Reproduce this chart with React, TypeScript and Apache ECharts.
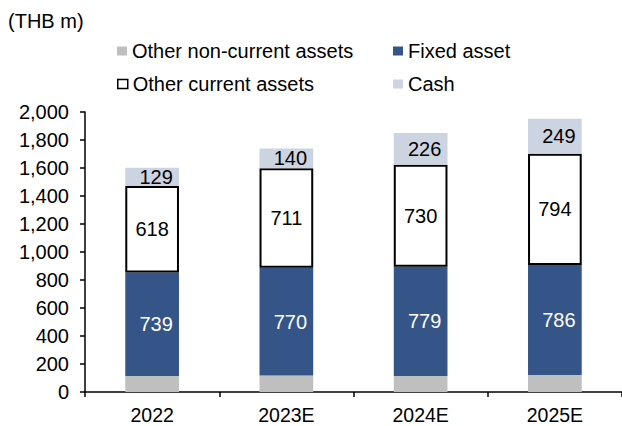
import React, { useEffect, useRef } from "react";
import * as echarts from "echarts";

const categories = ["2022", "2023E", "2024E", "2025E"];
const otherNonCurrent = [115, 118, 115, 122];
const fixedAsset = [739, 770, 779, 786];
const otherCurrent = [618, 711, 730, 794];
const cash = [129, 140, 226, 249];
const yTicks = { min: 0, max: 2000, interval: 200 };
const unitLabel = "(THB m)";

const FONT = "Liberation Sans, Arial, sans-serif";

export default function App() {
  const ref = useRef<HTMLDivElement>(null);
  useEffect(() => {
    document.body.style.margin = "0";
    if (!ref.current) return;
    const chart = echarts.init(ref.current, null, { renderer: "svg" });
    const legendText = { fontSize: 20, fontFamily: FONT, color: "#000", lineHeight: 20 };
    const mkLegend = (name: string, left: number, top: number, extra: any = {}) => ({
      data: [name],
      left,
      top,
      orient: "horizontal",
      icon: "rect",
      itemWidth: 10,
      itemHeight: 9,
      padding: 0,
      textStyle: legendText,
      selectedMode: false,
      ...extra,
    });
    const labelBase = { show: true, position: "inside", fontSize: 20, fontFamily: FONT };
    chart.setOption({
      animation: false,
      backgroundColor: "#fff",
      graphic: [
        {
          type: "text",
          left: 8,
          top: 11,
          style: { text: unitLabel, fontSize: 20, fontFamily: FONT, fill: "#000" },
        },
      ],
      legend: [
        mkLegend("Other non-current assets", 117, 41),
        mkLegend("Fixed asset", 393, 41),
        mkLegend("Other current assets", 117, 74, {
          itemStyle: { borderColor: "#000", borderWidth: 1.5, color: "#fff" },
        }),
        mkLegend("Cash", 393, 74),
      ],
      grid: { left: 85, top: 112, width: 540, height: 280 },
      xAxis: {
        type: "category",
        data: categories,
        axisLine: { show: true, lineStyle: { color: "#000", width: 1.5 } },
        axisTick: { show: true, length: 5, lineStyle: { color: "#000", width: 1.5 } },
        axisLabel: { color: "#000", fontSize: 19.5, fontFamily: FONT, margin: 13, lineHeight: 19 },
      },
      yAxis: {
        type: "value",
        min: yTicks.min,
        max: yTicks.max,
        interval: yTicks.interval,
        axisLine: { show: true, lineStyle: { color: "#000", width: 1.5 } },
        axisTick: { show: true, length: 5, lineStyle: { color: "#000", width: 1.5 } },
        splitLine: { show: false },
        axisLabel: {
          color: "#000",
          fontSize: 20,
          fontFamily: FONT,
          margin: 16,
          formatter: (v: number) => v.toLocaleString("en-US"),
        },
      },
      series: [
        {
          name: "Other non-current assets",
          type: "bar",
          stack: "a",
          data: otherNonCurrent,
          barWidth: "40%",
          itemStyle: { color: "#BFBFBF" },
        },
        {
          name: "Fixed asset",
          type: "bar",
          stack: "a",
          data: fixedAsset,
          itemStyle: { color: "#355487" },
          label: { ...labelBase, color: "#fff", offset: [4, 0] },
        },
        {
          name: "Other current assets",
          type: "bar",
          stack: "a",
          data: otherCurrent,
          itemStyle: { color: "#fff", borderColor: "#000", borderWidth: 2 },
          label: { ...labelBase, color: "#000" },
        },
        {
          name: "Cash",
          type: "bar",
          stack: "a",
          data: cash,
          itemStyle: { color: "#CDD4E1" },
          label: { ...labelBase, color: "#000", offset: [4, 0] },
        },
      ],
    });
    return () => chart.dispose();
  }, []);
  return <div ref={ref} style={{ width: 622, height: 426 }} />;
}
